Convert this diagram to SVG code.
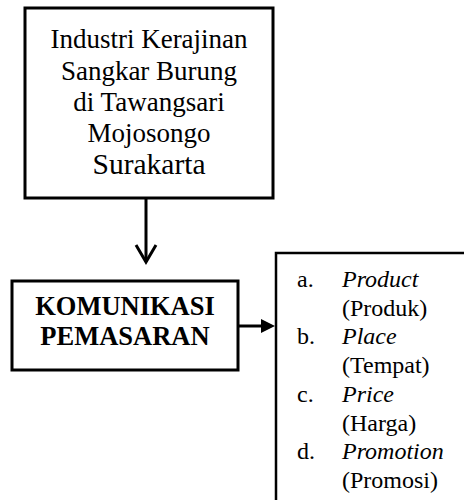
<svg xmlns="http://www.w3.org/2000/svg" width="464" height="500" viewBox="0 0 464 500">
<style>
.box{fill:#fff;stroke:#000;stroke-width:3}
.t{font-family:"Liberation Serif","Times New Roman",serif;fill:#000}
.top{font-size:27px;text-anchor:middle}
.bold{font-size:26.5px;font-weight:bold;text-anchor:middle}
.li{font-size:24px}
.it{font-style:italic}
.ln{stroke:#000;stroke-width:3;fill:none}
</style>
<rect width="464" height="500" fill="#fff"/>
<g id="node-industri">
<rect class="box" x="25" y="8" width="248" height="190"/>
<text class="t top" x="149" y="48">Industri Kerajinan</text>
<text class="t top" x="149" y="80">Sangkar Burung</text>
<text class="t top" x="149" y="111">di Tawangsari</text>
<text class="t top" x="149" y="142">Mojosongo</text>
<text class="t top" x="149" y="174" style="font-size:29.5px">Surakarta</text>
</g>
<g id="node-komunikasi">
<rect class="box" x="12" y="281" width="226" height="89"/>
<text class="t bold" x="125" y="315">KOMUNIKASI</text>
<text class="t bold" x="125" y="345">PEMASARAN</text>
</g>
<g id="node-bauran">
<rect x="276" y="253" width="200" height="270" fill="#fff" stroke="#000" stroke-width="2.5"/>
<text class="t li" x="297" y="287">a.</text>
<text class="t li it" x="342" y="287">Product</text>
<text class="t li" x="342" y="315.7">(Produk)</text>
<text class="t li" x="297" y="344.4">b.</text>
<text class="t li it" x="342" y="344.4">Place</text>
<text class="t li" x="342" y="373.1">(Tempat)</text>
<text class="t li" x="297" y="401.8">c.</text>
<text class="t li it" x="342" y="401.8">Price</text>
<text class="t li" x="342" y="430.5">(Harga)</text>
<text class="t li" x="297" y="459.2">d.</text>
<text class="t li it" x="342" y="459.2">Promotion</text>
<text class="t li" x="342" y="488">(Promosi)</text>
</g>
<g id="connectors">
<path class="ln" d="M146,198 L146,262"/>
<path class="ln" d="M136,245 L146,262 L156,245"/>
<path class="ln" d="M238,326 L263,326"/>
<path d="M261,319 L275,326 L261,333 Z" fill="#000"/>
</g>
</svg>
